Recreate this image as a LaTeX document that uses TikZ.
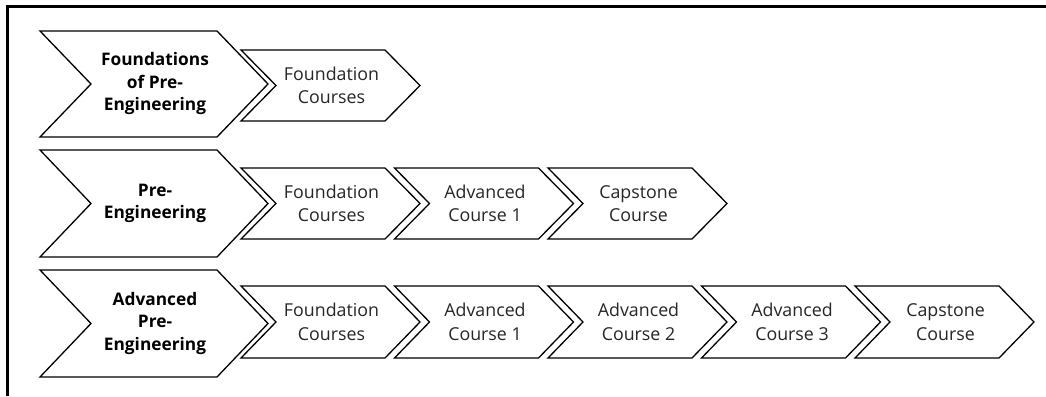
\documentclass[tikz,border=0pt]{standalone}
\usepackage{fontspec}
\setmainfont{Open Sans}
\begin{document}
\begin{tikzpicture}[x=1pt,y=-1pt,
  chevline/.style={draw=black,line width=1.3pt,line join=miter,fill=white},
  bigtext/.style={font=\fontsize{17.3}{22.5}\selectfont\bfseries,align=center,text=black,inner sep=0pt},
  smalltext/.style={font=\fontsize{17.8}{23.5}\selectfont,align=center,text=black!85,inner sep=0pt},
  frameline/.style={draw=black,line width=2.6pt}]
\useasboundingbox (0,0) rectangle (1046,396);
% frame
\coordinate (fbl) at (7.7,396);
\coordinate (ftl) at (7.7,6.3);
\coordinate (ftr) at (1046,6.3);
\draw[frameline] (fbl) -- (ftl) -- (ftr);
% chevron macro: name, x left, y top, width, height, depth, text, style
\newcommand\chev[8]{%
  \draw[chevline] (#2,#3) -- ({#2+#4-#6},#3) -- ({#2+#4},{#3+#5/2}) -- ({#2+#4-#6},{#3+#5}) -- (#2,{#3+#5}) -- ({#2+#6},{#3+#5/2}) -- cycle;
  \node[#8] (#1) at ({#2+#4/2+1},{#3+#5/2}) {#7};}
% row 1
\chev{r1big}{40}{31}{228}{106}{51}{Foundations\\of Pre-\\Engineering}{bigtext}
\chev{r1a}{241}{50}{179}{71}{35}{Foundation\\Courses}{smalltext}
% row 2
\chev{r2big}{40}{150}{228}{107}{51}{Pre-\\Engineering}{bigtext}
\chev{r2a}{241}{168}{179}{71}{35}{Foundation\\Courses}{smalltext}
\chev{r2b}{394.5}{168}{179}{71}{35}{Advanced\\Course 1}{smalltext}
\chev{r2c}{548}{168}{179}{71}{35}{Capstone\\Course}{smalltext}
% row 3
\chev{r3big}{40}{270}{228}{107}{51}{Advanced\\Pre-\\Engineering}{bigtext}
\chev{r3a}{241}{286}{179}{72}{35}{Foundation\\Courses}{smalltext}
\chev{r3b}{394.5}{286}{179}{72}{35}{Advanced\\Course 1}{smalltext}
\chev{r3c}{548}{286}{179}{72}{35}{Advanced\\Course 2}{smalltext}
\chev{r3d}{701.5}{286}{179}{72}{35}{Advanced\\Course 3}{smalltext}
\chev{r3e}{855}{286}{179}{72}{35}{Capstone\\Course}{smalltext}
\end{tikzpicture}
\end{document}
